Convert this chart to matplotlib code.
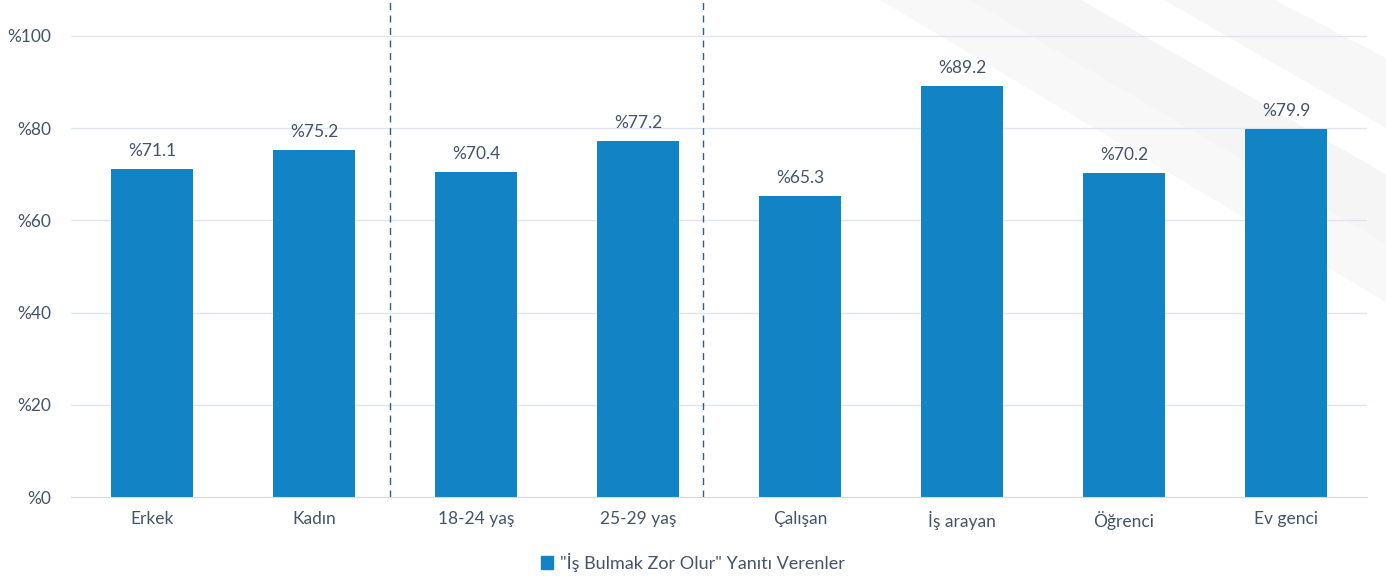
import matplotlib
matplotlib.use("Agg")
import matplotlib.pyplot as plt
from matplotlib.patches import Polygon

categories = ["Erkek", "Kadın", "18-24 yaş", "25-29 yaş", "Çalışan", "İş arayan", "Öğrenci", "Ev genci"]
values = [71.1, 75.2, 70.4, 77.2, 65.3, 89.2, 70.2, 79.9]
yticks = [0, 20, 40, 60, 80, 100]
series_name = '"İş Bulmak Zor Olur" Yanıtı Verenler'
separators = [1.47, 3.40]

plt.rcParams['font.family'] = ['Lato', 'DejaVu Sans']
txt = '#44546A'
bar_color = '#1283C4'

fig = plt.figure(figsize=(13.86, 5.81), dpi=100)
fig.patch.set_facecolor('white')

# faint diagonal background stripes top-right
for pts, c in [
    ([(0.635, 1.0), (0.74, 1.0), (1.0, 0.62), (1.0, 0.48)], '#F8F8F8'),
    ([(0.70, 1.0), (0.78, 1.0), (1.0, 0.70), (1.0, 0.58)], '#F5F5F5'),
    ([(0.84, 1.0), (0.92, 1.0), (1.0, 0.90), (1.0, 0.78)], '#F7F7F7'),
]:
    fig.patches.append(Polygon(pts, closed=True, transform=fig.transFigure,
                               facecolor=c, edgecolor='none', zorder=-10))

ax = fig.add_axes([71/1386, 1-497/581, (1367-71)/1386, 497/581])
ax.set_facecolor('none')
x = list(range(len(categories)))
bars = ax.bar(x, values, width=0.505, color=bar_color, zorder=3)
for xi, v in zip(x, values):
    ax.text(xi, v + 2.2, f"%{v:.1f}", ha='center', va='bottom', fontsize=12.5, color=txt)

ax.set_xlim(-0.5, len(categories) - 0.5)
ax.set_ylim(0, 100 * 497 / (497 - 36))
ax.set_yticks(yticks)
ax.set_yticklabels([f"%{t}" for t in yticks], fontsize=12.5, color=txt)
ax.set_xticks(x)
ax.set_xticklabels(categories, fontsize=12.5, color=txt)
ax.tick_params(axis='both', length=0)
ax.tick_params(axis='y', pad=14)
ax.tick_params(axis='x', pad=10)
for t in yticks[1:]:
    ax.axhline(t, color='#DCE6F2', lw=1.0, zorder=1)
for s in ['top', 'right', 'left']:
    ax.spines[s].set_visible(False)
ax.spines['bottom'].set_color('#D9D9D9')
ax.spines['bottom'].set_zorder(4)

for sx in separators:
    ax.axvline(sx, color='#2E5F8A', lw=1.0, ls=(0, (5, 4)), zorder=2)

handle = plt.Rectangle((0, 0), 1, 1, color=bar_color)
fig.legend([handle], [series_name], loc='center', bbox_to_anchor=(0.5, 1 - 562/581),
           frameon=False, fontsize=13, labelcolor=txt, handlelength=0.7,
           handleheight=0.7, handletextpad=0.4)

fig.savefig("out.png", dpi=100, facecolor='white')
